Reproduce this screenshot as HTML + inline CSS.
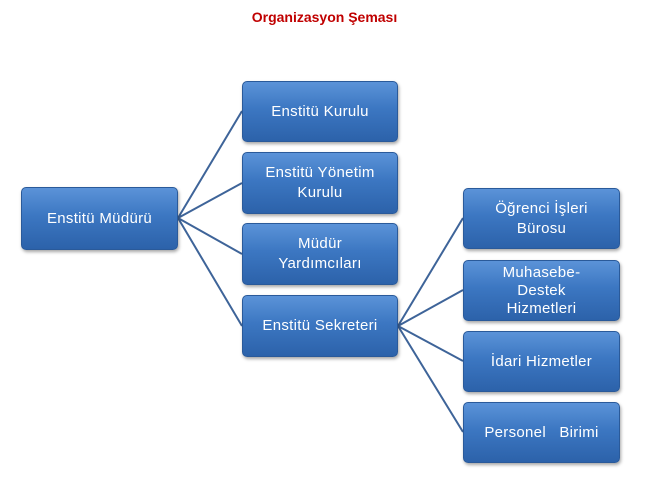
<!DOCTYPE html>
<html><head><meta charset="utf-8"><style>
body{margin:0;width:649px;height:479px;background:#fff;position:relative;overflow:hidden;font-family:"Liberation Sans",sans-serif}
.t{position:absolute;left:0;width:649px;top:9px;text-align:center;color:#c00000;font-weight:bold;font-size:14px}
.b{position:absolute;box-sizing:border-box;border-radius:5px;background:linear-gradient(#5b93d8 0%,#3c77c2 45%,#2c62aa 100%);border:1px solid #2a5a9a;box-shadow:1px 2px 3px rgba(0,0,0,.35);color:#fff;font-size:15px;display:flex;align-items:center;justify-content:center;text-align:center;line-height:20px;padding:0 4px;letter-spacing:0.3px}
svg{position:absolute;left:0;top:0}
</style></head><body>
<div class="t">Organizasyon Şeması</div>
<svg width="649" height="479"><g stroke="#3e6499" stroke-width="2" fill="none">
<path d="M178 218 L242 111 M178 218 L242 183 M178 218 L242 254 M178 218 L242 326"/>
<path d="M398 326 L463 218 M398 326 L463 290 M398 326 L463 361 M398 326 L463 432"/>
</g></svg>
<div class="b" style="left:21px;top:187px;width:157px;height:63px">Enstitü Müdürü</div>
<div class="b" style="left:242px;top:81px;width:156px;height:61px">Enstitü Kurulu</div>
<div class="b" style="left:242px;top:152px;width:156px;height:62px">Enstitü Yönetim<br>Kurulu</div>
<div class="b" style="left:242px;top:223px;width:156px;height:62px">Müdür<br>Yardımcıları</div>
<div class="b" style="left:242px;top:295px;width:156px;height:62px">Enstitü Sekreteri</div>
<div class="b" style="left:463px;top:188px;width:157px;height:61px">Öğrenci İşleri<br>Bürosu</div>
<div class="b" style="left:463px;top:260px;width:157px;height:61px;line-height:18px">Muhasebe-<br>Destek<br>Hizmetleri</div>
<div class="b" style="left:463px;top:331px;width:157px;height:61px">İdari Hizmetler</div>
<div class="b" style="left:463px;top:402px;width:157px;height:61px">Personel&nbsp;&nbsp; Birimi</div>
</body></html>
